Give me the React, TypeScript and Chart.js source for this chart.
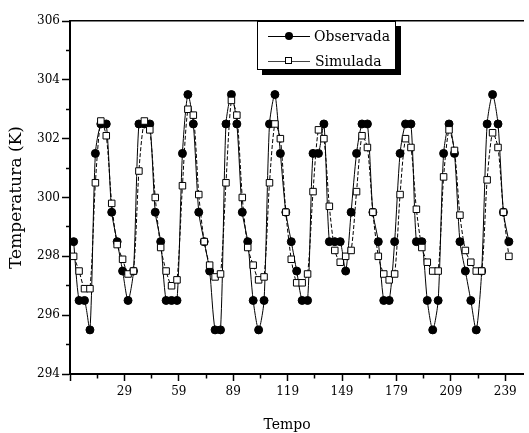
import React, { useEffect, useRef } from "react";
import { Chart, registerables } from "chart.js";

Chart.register(...registerables);

// Observed temperature (K), every 3 time units
const observada = [
  298.5, 296.5, 296.5, 295.5, 301.5, 302.5, 302.5, 299.5, 298.5, 297.5,
  296.5, 297.5, 302.5, 302.5, 302.5, 299.5, 298.5, 296.5, 296.5, 296.5,
  301.5, 303.5, 302.5, 299.5, 298.5, 297.5, 295.5, 295.5, 302.5, 303.5,
  302.5, 299.5, 298.5, 296.5, 295.5, 296.5, 302.5, 303.5, 301.5, 299.5,
  298.5, 297.5, 296.5, 296.5, 301.5, 301.5, 302.5, 298.5, 298.5, 298.5,
  297.5, 299.5, 301.5, 302.5, 302.5, 299.5, 298.5, 296.5, 296.5, 298.5,
  301.5, 302.5, 302.5, 298.5, 298.5, 296.5, 295.5, 296.5, 301.5, 302.5,
  301.5, 298.5, 297.5, 296.5, 295.5, 297.5, 302.5, 303.5, 302.5, 299.5,
  298.5,
];

// Simulated temperature (K)
const simulada = [
  298.0, 297.5, 296.9, 296.9, 300.5, 302.6, 302.1, 299.8, 298.4, 297.9,
  297.4, 297.5, 300.9, 302.6, 302.3, 300.0, 298.3, 297.5, 297.0, 297.2,
  300.4, 303.0, 302.8, 300.1, 298.5, 297.7, 297.3, 297.4, 300.5, 303.3,
  302.8, 300.0, 298.3, 297.7, 297.2, 297.3, 300.5, 302.5, 302.0, 299.5,
  297.9, 297.1, 297.1, 297.4, 300.2, 302.3, 302.0, 299.7, 298.2, 297.8,
  298.0, 298.2, 300.2, 302.1, 301.7, 299.5, 298.0, 297.4, 297.2, 297.4,
  300.1, 302.0, 301.7, 299.6, 298.3, 297.8, 297.5, 297.5, 300.7, 302.3,
  301.6, 299.4, 298.2, 297.8, 297.5, 297.5, 300.6, 302.2, 301.7, 299.5,
  298.0,
];

// time stamps (sampling grid, one sample every 3 units)
const tempo = observada.map((_, i) => 1 + 3 * i);

const xTickLabels = [29, 59, 89, 119, 149, 179, 209, 239];
const xMajorTicks = [-1, ...xTickLabels];
const xMinorTicks = [14, 44, 74, 104, 134, 164, 194, 224];
const xMin = -1;
const xMax = 249;
const yMin = 294;
const yMax = 306;

const serif = "'DejaVu Serif', serif";

export default function App() {
  const ref = useRef<HTMLCanvasElement>(null);

  useEffect(() => {
    const canvas = ref.current;
    if (!canvas) return;
    const allXTicks = [...xMajorTicks, ...xMinorTicks].sort((a, b) => a - b);
    const chart = new Chart(canvas, {
      type: "line",
      data: {
        datasets: [
          {
            label: "Observada",
            data: tempo.map((x, i) => ({ x, y: observada[i] })),
            borderColor: "#000",
            borderWidth: 1,
            pointStyle: "circle",
            pointRadius: 4,
            pointBackgroundColor: "#000",
            pointBorderColor: "#000",
            pointBorderWidth: 1,
            tension: 0.25,
            fill: false,
            order: 1,
          },
          {
            label: "Simulada",
            data: tempo.map((x, i) => ({ x, y: simulada[i] })),
            borderColor: "#000",
            borderWidth: 1,
            borderDash: [4, 2],
            pointStyle: "rect",
            pointRadius: 4.6,
            pointBackgroundColor: "#fff",
            pointBorderColor: "#000",
            pointBorderWidth: 1,
            tension: 0.25,
            fill: false,
            order: 0,
          },
        ],
      },
      options: {
        animation: false,
        responsive: false,
        layout: { padding: { top: 21, left: 0, right: 0, bottom: 0 } },
        plugins: {
          legend: { display: false },
          tooltip: { enabled: false },
        },
        scales: {
          x: {
            type: "linear",
            position: "bottom",
            min: xMin,
            max: xMax,
            afterBuildTicks: (s: any) => {
              s.ticks = allXTicks.map((v) => ({ value: v }));
            },
            afterFit: (s: any) => {
              s.height = 59;
            },
            ticks: {
              autoSkip: false,
              maxRotation: 0,
              minRotation: 0,
              padding: 4,
              color: "#000",
              font: { family: serif, size: 12 },
              callback: (v: any) => (xTickLabels.includes(Number(v)) ? String(v) : ""),
            },
            grid: {
              drawOnChartArea: false,
              tickLength: 7,
              tickColor: "#000",
              tickWidth: 1.5,
              tickBorderDash: (c: any) =>
                c.tick && xMajorTicks.includes(c.tick.value) ? [] : [3.5, 100],
            },
            border: { color: "#000", width: 2 },
          },
          x2: {
            type: "linear",
            position: "top",
            min: xMin,
            max: xMax,
            afterFit: (s: any) => {
              s.height = 0;
            },
            ticks: { display: false },
            grid: { display: false, drawTicks: false },
            border: { display: true, color: "#000", width: 1.5 },
          },
          y: {
            type: "linear",
            position: "left",
            min: yMin,
            max: yMax,
            afterFit: (s: any) => {
              s.width = 70;
            },
            ticks: {
              stepSize: 1,
              padding: 2,
              color: "#000",
              font: { family: serif, size: 12 },
              callback: (v: any) => (Number(v) % 2 === 0 ? String(v) : ""),
            },
            grid: {
              drawOnChartArea: false,
              tickLength: 8,
              tickColor: "#000",
              tickWidth: 1.5,
              tickBorderDash: (c: any) =>
                c.tick && Number(c.tick.value) % 2 === 0 ? [] : [0, 4, 4, 100],
            },
            border: { color: "#000", width: 2 },
            title: {
              display: true,
              text: "Temperatura (K)",
              color: "#000",
              font: { family: serif, size: 17, weight: "normal" },
              padding: { top: 6, bottom: 0 },
            },
          },
        },
      },
    });
    return () => chart.destroy();
  }, []);

  const textStyle: React.CSSProperties = {
    position: "absolute",
    fontFamily: serif,
    fontSize: 14,
    lineHeight: "16px",
    color: "#000",
    whiteSpace: "nowrap",
  };

  return (
    <div
      style={{
        position: "absolute",
        left: 0,
        top: 0,
        width: 529,
        height: 433,
        background: "#fff",
        overflow: "hidden",
      }}
    >
      <canvas ref={ref} width={529} height={433} style={{ display: "block", width: 529, height: 433 }} />
      {/* Legend */}
      <div
        style={{
          position: "absolute",
          left: 257,
          top: 21,
          width: 139,
          height: 49,
          boxSizing: "border-box",
          border: "1px solid #000",
          background: "#fff",
          boxShadow: "5px 5px 0 #000",
        }}
      >
        <div style={{ position: "absolute", left: 10, top: 14, width: 42, height: 1, background: "#000" }} />
        <div
          style={{
            position: "absolute",
            left: 27,
            top: 10,
            width: 8,
            height: 8,
            borderRadius: "50%",
            background: "#000",
          }}
        />
        <div style={{ ...textStyle, left: 56, top: 6 }}>Observada</div>
        <div style={{ position: "absolute", left: 10, top: 39, width: 42, height: 1, background: "#444" }} />
        <div
          style={{
            position: "absolute",
            left: 27,
            top: 35,
            width: 7,
            height: 7,
            boxSizing: "border-box",
            border: "1px solid #000",
            background: "#fff",
          }}
        />
        <div style={{ ...textStyle, left: 57, top: 31 }}>Simulada</div>
      </div>
      {/* X axis title */}
      <div style={{ ...textStyle, left: 287, top: 416, transform: "translateX(-50%)" }}>Tempo</div>
    </div>
  );
}
